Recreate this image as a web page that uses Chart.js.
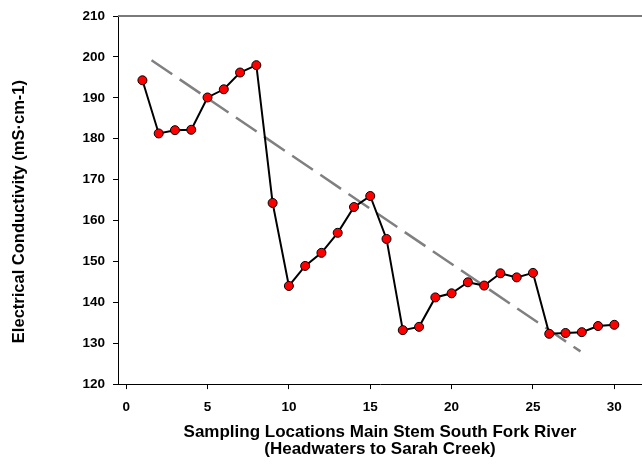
<!DOCTYPE html>
<html>
<head>
<meta charset="utf-8">
<script src="https://cdn.jsdelivr.net/npm/chart.js@4.4.1/dist/chart.umd.min.js"></script>
<style>
  html, body { margin: 0; padding: 0; background: #ffffff; }
  #wrap { width: 642px; height: 468px; position: relative; }
</style>
</head>
<body>
<div id="wrap"><canvas id="c" width="642" height="468"></canvas></div>
<script>
// ---- data ----
const locations = [1,2,3,4,5,6,7,8,9,10,11,12,13,14,15,16,17,18,19,20,21,22,23,24,25,26,27,28,29,30];
const conductivity = [194.3,181.3,182.1,182.2,190.1,192.1,196.2,198.0,164.3,144.0,
                      148.9,152.1,157.0,163.3,166.0,155.5,133.2,134.0,141.2,142.2,
                      144.9,144.1,147.1,146.1,147.2,132.3,132.5,132.7,134.2,134.5];
const trendX = [1.56, 27.92];
const trendY = [199.2, 128.0];
const xTicks = [0,5,10,15,20,25,30];
const yTicks = [120,130,140,150,160,170,180,190,200,210];
const xTitle = ['Sampling Locations Main Stem South Fork River', '(Headwaters to Sarah Creek)'];
const yTitle = 'Electrical Conductivity (mS\u00B7cm-1)';

const FONT = "'Liberation Sans', Arial, Helvetica, sans-serif";

const topFrame = {
  id: 'topFrame',
  afterDatasetsDraw(chart) {
    const {ctx, chartArea} = chart;
    ctx.save();
    ctx.strokeStyle = '#7a7a7a';
    ctx.lineWidth = 2;
    ctx.beginPath();
    ctx.moveTo(chartArea.left, chartArea.top);
    ctx.lineTo(chartArea.right, chartArea.top);
    ctx.stroke();
    ctx.restore();
  }
};

new Chart(document.getElementById('c'), {
  type: 'scatter',
  data: {
    datasets: [
      {
        label: 'EC',
        data: locations.map((x, i) => ({x: x, y: conductivity[i]})),
        showLine: true,
        borderColor: '#000000',
        borderWidth: 2,
        pointRadius: 4.5,
        pointBackgroundColor: '#ff0000',
        pointBorderColor: '#000000',
        pointBorderWidth: 1,
        tension: 0
      },
      {
        label: 'Trend',
        data: trendX.map((x, i) => ({x: x, y: trendY[i]})),
        showLine: true,
        borderColor: '#808080',
        borderWidth: 2.5,
        borderDash: [25, 9],
        pointRadius: 0,
        tension: 0
      }
    ]
  },
  plugins: [topFrame],
  options: {
    responsive: false,
    animation: false,
    events: [],
    layout: { autoPadding: false, padding: { top: 15, right: 0, bottom: 0, left: 0 } },
    plugins: { legend: { display: false }, tooltip: { enabled: false } },
    scales: {
      x: {
        type: 'linear',
        min: -0.5,
        max: 31.7,
        afterBuildTicks: (s) => { s.ticks = xTicks.map(v => ({value: v})); },
        grid: { drawOnChartArea: false, drawTicks: true, tickLength: 5, color: '#000000', lineWidth: 1 },
        border: { display: true, color: '#000000', width: 1 },
        ticks: { color: '#000000', padding: 9.6, maxRotation: 0, font: { family: FONT, size: 13.5, weight: 'bold' } },
        title: {
          display: true,
          text: xTitle,
          color: '#000000',
          font: { family: FONT, size: 17, weight: 'bold', lineHeight: 1.0 },
          padding: { top: -0.5, bottom: 10 }
        }
      },
      y: {
        type: 'linear',
        min: 120,
        max: 210,
        afterBuildTicks: (s) => { s.ticks = yTicks.map(v => ({value: v})); },
        grid: { drawOnChartArea: false, drawTicks: true, tickLength: 5, color: '#000000', lineWidth: 1 },
        border: { display: true, color: '#000000', width: 1 },
        ticks: { color: '#000000', padding: 8, font: { family: FONT, size: 13.5, weight: 'bold' } },
        title: {
          display: true,
          text: yTitle + '     ',
          color: '#000000',
          font: { family: FONT, size: 16.5, weight: 'bold', lineHeight: 1.0 },
          padding: { top: 11, bottom: 47 }
        }
      }
    }
  }
});
</script>
</body>
</html>
